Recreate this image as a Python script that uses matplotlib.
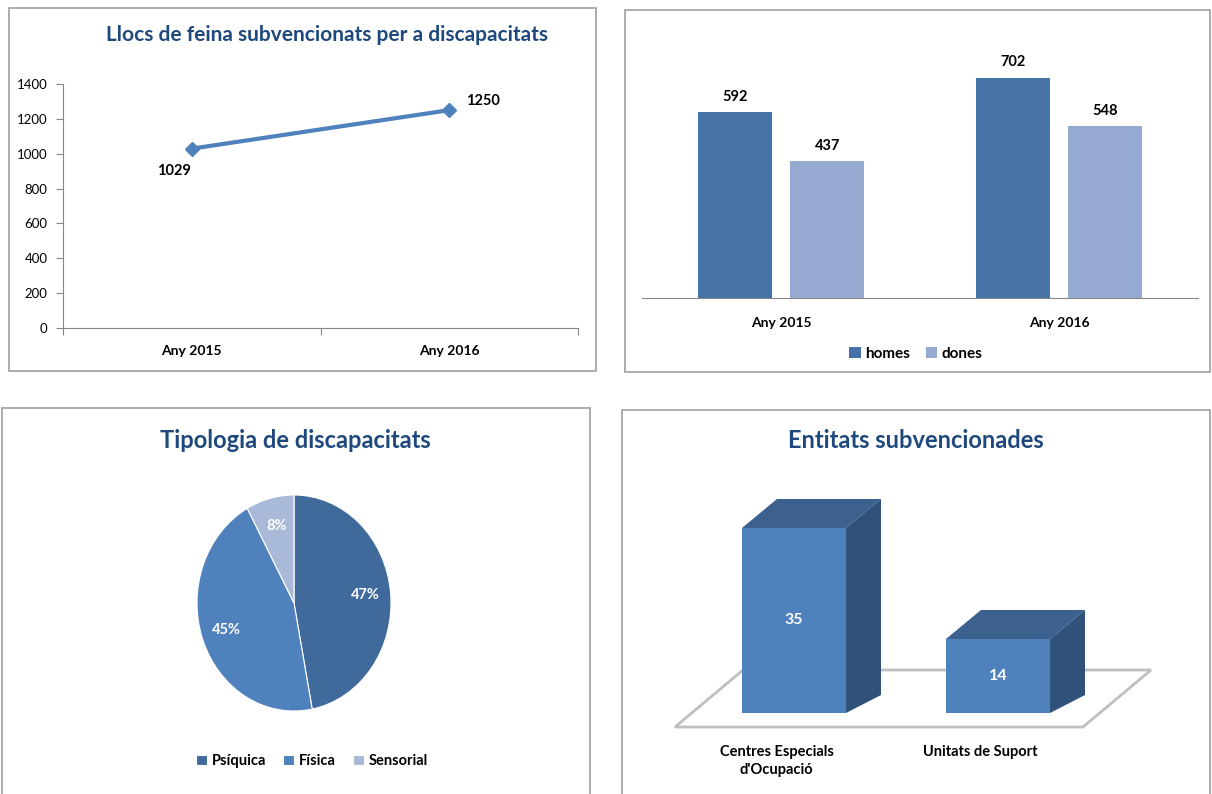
import matplotlib
matplotlib.use("Agg")
import matplotlib.pyplot as plt
from matplotlib.patches import Rectangle, Polygon

plt.rcParams['font.family'] = ['Lato', 'DejaVu Sans']

# data
years = ['Any 2015', 'Any 2016']
llocs = [1029, 1250]
homes = [592, 702]
dones = [437, 548]
tipus = ['Psíquica', 'Física', 'Sensorial']
tipus_pct = [47, 45, 8]
entitats = ["Centres Especials\nd'Ocupació", 'Unitats de Suport']
entitats_n = [35, 14]

W, H = 1212, 794
fig = plt.figure(figsize=(W / 100, H / 100), dpi=100)
fig.patch.set_facecolor('white')

title_col = '#1F497D'
grey = '#868686'


def rect(x0, y0, x1, y1):
    return [x0 / W, 1 - y1 / H, (x1 - x0) / W, (y1 - y0) / H]


def fx(x):
    return x / W


def fy(y):
    return 1 - y / H


# panel borders
for (x0, y0, x1, y1) in [(9, 8, 596, 371), (625, 10, 1210, 372),
                         (2, 408, 590, 800), (622, 410, 1210, 800)]:
    fig.add_artist(Rectangle((fx(x0), fy(y1)), fx(x1) - fx(x0), fy(y0) - fy(y1),
                             transform=fig.transFigure, fill=False,
                             edgecolor='#A6A6A6', lw=1.3))

# ---- panel 1: line
ax1 = fig.add_axes(rect(63, 84, 578, 328))
xpos = [0, 1]
ax1.plot(xpos, llocs, color='#4F81BD', lw=3, marker='D', ms=7, zorder=3)
ax1.set_xlim(-0.5, 1.5)
ax1.set_ylim(0, 1400)
ax1.set_yticks(range(0, 1401, 200))
ax1.set_xticks([-0.5, 0.5, 1.5], minor=False)
ax1.set_xticklabels([])
ax1.set_xticks(xpos, minor=True)
ax1.set_xticklabels(years, minor=True, fontsize=10, fontweight='bold')
ax1.tick_params(axis='x', which='minor', length=0, pad=12)
ax1.tick_params(axis='x', which='major', length=5, color=grey, direction='out')
ax1.tick_params(axis='y', length=5, color=grey, labelsize=9.5, pad=6)
for s in ['top', 'right']:
    ax1.spines[s].set_visible(False)
for s in ['left', 'bottom']:
    ax1.spines[s].set_color(grey)
ax1.annotate(str(llocs[0]), (xpos[0], llocs[0]), xytext=(-18, -22),
             textcoords='offset pixels', ha='center', va='center',
             fontsize=10.5, fontweight='bold')
ax1.annotate(str(llocs[1]), (xpos[1], llocs[1]), xytext=(34, 9),
             textcoords='offset pixels', ha='center', va='center',
             fontsize=10.5, fontweight='bold')
fig.text(fx(327), fy(35), 'Llocs de feina subvencionats per a discapacitats',
         ha='center', va='center', fontsize=15, fontweight='bold', color=title_col)

# ---- panel 2: grouped bars
ax2 = fig.add_axes(rect(642, 47, 1198, 298))
bw = 0.266
off = 0.167
b1 = ax2.bar([p - off for p in xpos], homes, bw, color='#4572A7', label='homes')
b2 = ax2.bar([p + off for p in xpos], dones, bw, color='#95A9D1', label='dones')
ax2.set_xlim(-0.5, 1.5)
ax2.set_ylim(0, 800)
ax2.set_yticks([])
ax2.set_xticks(xpos)
ax2.set_xticklabels(years, fontsize=10, fontweight='bold')
ax2.tick_params(axis='x', length=0, pad=14)
for s in ['top', 'right', 'left']:
    ax2.spines[s].set_visible(False)
ax2.spines['bottom'].set_color(grey)
for bars in (b1, b2):
    ax2.bar_label(bars, padding=6, fontsize=10.5, fontweight='bold')
leg2 = ax2.legend(loc='center', bbox_to_anchor=(fx(916), fy(354)),
                  bbox_transform=fig.transFigure, ncol=2, frameon=False,
                  handlelength=0.75, handleheight=0.75, handletextpad=0.3,
                  columnspacing=1.0, prop={'size': 11, 'weight': 'bold'})

# ---- panel 3: pie
ax3 = fig.add_axes(rect(197, 495, 391, 711))
pie_cols = ['#416A9C', '#4F81BD', '#A9B9D8']
wedges, _, autot = ax3.pie(tipus_pct, colors=pie_cols, startangle=90, counterclock=False,
                           autopct='%d%%', pctdistance=0.74,
                           wedgeprops={'edgecolor': 'white', 'linewidth': 0.8},
                           textprops={'color': 'white', 'fontsize': 10.5, 'fontweight': 'bold'})
ax3.set_aspect('auto')
ax3.set_xlim(-1, 1)
ax3.set_ylim(-1, 1)
ax3.legend(wedges, tipus, loc='center', bbox_to_anchor=(fx(312), fy(761)),
           bbox_transform=fig.transFigure, ncol=3, frameon=False,
           handlelength=0.75, handleheight=0.75, handletextpad=0.3,
           columnspacing=1.2, prop={'size': 10.5, 'weight': 'bold'})
fig.text(fx(295), fy(440), 'Tipologia de discapacitats', ha='center', va='center',
         fontsize=17, fontweight='bold', color=title_col)

# ---- panel 4: pseudo 3D bars
ax4 = fig.add_axes(rect(660, 480, 1170, 794))
ppx = 204.0   # pixels per category unit
ppy = 5.286   # pixels per value unit
ax4.set_xlim(-134 / ppx, 376 / ppx)
ax4.set_ylim(-81 / ppy, 233 / ppy)
ax4.axis('off')
w = 0.51
dx, dy = 35 / ppx, 29 / ppy
side_drop = 18 / ppy
# floor
fl, fr = -119 / ppx, 289 / ppx
ff, fb = -14 / ppy, 43 / ppy
fdx = 68 / ppx
ax4.add_patch(Polygon([(fl, ff), (fr, ff), (fr + fdx, fb), (fl + fdx, fb)],
                      closed=True, facecolor='white', edgecolor='#BFBFBF', lw=2, zorder=1))
ax4.bar(xpos, entitats_n, w, color='#4F81BD', zorder=3)
for x, v in zip(xpos, entitats_n):
    l, r = x - w / 2, x + w / 2
    ax4.add_patch(Polygon([(l, v), (l + dx, v + dy), (r + dx, v + dy), (r, v)],
                          closed=True, facecolor='#3C618E', edgecolor='none', zorder=3))
    ax4.add_patch(Polygon([(r, 0), (r, v), (r + dx, v + dy), (r + dx, side_drop)],
                          closed=True, facecolor='#30527A', edgecolor='none', zorder=3))
    ax4.text(x, v / 2, str(v), ha='center', va='center', color='white',
             fontsize=11.5, fontweight='bold', zorder=4)
for x, lab in zip(xpos, entitats):
    ax4.text(x - 0.085, -32 / ppy, lab, ha='center', va='top', fontsize=10.5,
             fontweight='bold', linespacing=1.4)
fig.text(fx(916), fy(441), 'Entitats subvencionades', ha='center', va='center',
         fontsize=17, fontweight='bold', color=title_col)

fig.savefig('out.png', dpi=100)
